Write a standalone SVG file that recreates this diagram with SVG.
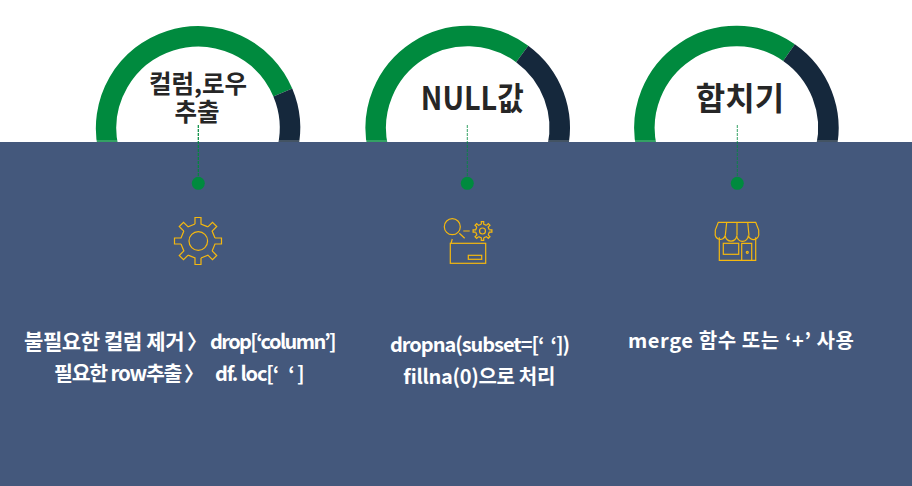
<svg xmlns="http://www.w3.org/2000/svg" xmlns:xlink="http://www.w3.org/1999/xlink" width="912" height="486" viewBox="0 0 912 486">
<style>
.ring{fill:none;stroke-width:20.5}
.g{stroke:#008A3E}
.n{stroke:#15283C}
.icon{fill:none;stroke:#F5B80F;stroke-width:1.2}
.dot{fill:#008A3E}
.lead{stroke:#008A3E;stroke-dasharray:3 1}
.title{font-family:"Noto Sans CJK KR","Noto Sans",sans-serif;font-weight:700;fill:#262626;text-anchor:middle}
.body{font-family:"Noto Sans CJK KR","Noto Sans",sans-serif;font-weight:700;font-size:20px;fill:#fff;white-space:pre}
</style>
<defs>
<path id="tooth" d="M-3,-17V-23.5H3V-17L9.9,-14.14"/>
<g id="gear">
<use xlink:href="#tooth" href="#tooth"/>
<use xlink:href="#tooth" href="#tooth" transform="rotate(45)"/>
<use xlink:href="#tooth" href="#tooth" transform="rotate(90)"/>
<use xlink:href="#tooth" href="#tooth" transform="rotate(135)"/>
<use xlink:href="#tooth" href="#tooth" transform="rotate(180)"/>
<use xlink:href="#tooth" href="#tooth" transform="rotate(225)"/>
<use xlink:href="#tooth" href="#tooth" transform="rotate(270)"/>
<use xlink:href="#tooth" href="#tooth" transform="rotate(315)"/>
</g>
</defs>
<rect width="912" height="486" fill="#fff"/>
<g id="rings">
<path class="ring g" d="M108.2,148A92,92 0 0 1 282.8,92.5"/>
<path class="ring n" d="M282.8,92.5A92,92 0 0 1 287.8,148"/>
<path class="ring g" d="M377.9,148A92,92 0 0 1 522.2,53.9"/>
<path class="ring n" d="M522.2,53.9A92,92 0 0 1 557.5,148"/>
<path class="ring g" d="M646.6,148A92,92 0 0 1 789,52.6"/>
<path class="ring n" d="M789,52.6A92,92 0 0 1 826.2,148"/>
</g>
<rect id="band" y="142" width="912" height="344" fill="#44587C"/>
<rect x="90" y="140" width="760" height="2" fill="#fff" opacity=".2"/>
<g id="connectors">
<line class="lead" x1="198.3" y1="125" x2="198.3" y2="178" stroke-width="1.2"/>
<line class="lead" x1="467.3" y1="125" x2="467.3" y2="178" stroke-width=".8"/>
<line class="lead" x1="737.3" y1="125" x2="737.3" y2="178" stroke-width=".8"/>
</g>
<g id="node-columns">
<text class="title" font-size="24.5"><tspan x="198" y="93">컬럼,로우</tspan><tspan x="197" y="121">추출</tspan></text>
<circle class="dot" cx="198.3" cy="183.3" r="6.5"/>
<g class="icon">
<use xlink:href="#gear" href="#gear" transform="translate(198,241)"/>
<circle cx="198.3" cy="241" r="9.3"/>
</g>
<text class="body"><tspan x="24" y="349" font-size="21" letter-spacing="-.4">불필요한 컬럼 제거 </tspan><tspan x="187" y="349">〉</tspan><tspan x="210" y="349" letter-spacing="-1.6">drop[‘column’]</tspan></text>
<text class="body"><tspan x="54" y="381" font-size="20.5" letter-spacing="-1.2">필요한 row추출</tspan><tspan x="184" y="381">〉</tspan><tspan x="215" y="381" letter-spacing="-1.15">df. loc[‘   ‘ ]</tspan></text>
</g>
<g id="node-null">
<text class="title" x="472.3" y="109.5" font-size="32" textLength="103" lengthAdjust="spacingAndGlyphs">NULL값</text>
<circle class="dot" cx="467.3" cy="183.3" r="6.5"/>
<g class="icon">
<circle cx="452.3" cy="226.7" r="8"/>
<path d="M459.3,233.3L464.7,238.3M463.3,231H469.7M451,243.3L452.3,239"/>
<use xlink:href="#gear" href="#gear" transform="translate(482.5,231) scale(.4)" stroke-width="3"/>
<circle cx="482.5" cy="231" r="3"/>
<rect x="450.3" y="243.3" width="35.4" height="20"/>
<rect x="468.3" y="255.3" width="13.4" height="4"/>
</g>
<text class="body" x="390" y="352" textLength="180" lengthAdjust="spacing">dropna(subset=[‘  ‘])</text>
<text class="body" x="403" y="384" textLength="152" lengthAdjust="spacing">fillna(0)으로 처리</text>
</g>
<g id="node-merge">
<text class="title" x="740" y="110" font-size="32">합치기</text>
<circle class="dot" cx="737.3" cy="183.3" r="6.5"/>
<g class="icon">
<path d="M718.3,222.3H755.7L758.7,230V233A5.2,5.2 0 0 1 748.3,235.5A5.8,5.8 0 0 1 736.7,235.5A5.7,5.7 0 0 1 725.3,235.5A5,5 0 0 1 715.3,233V230Z"/>
<path d="M726.7,222.3L725.3,235.5M737,222.3V235.5M747.7,222.3L749,235.5"/>
<path d="M719.3,237.3V260.3H755.7V237.3"/>
<rect x="723.3" y="243.3" width="15.4" height="11"/>
<path d="M741.7,260.3V243.3H751.7V260.3"/>
<circle cx="747.3" cy="252.3" r="1"/>
</g>
<text class="body" x="628" y="348" textLength="226" lengthAdjust="spacing">merge 함수 또는 ‘+’ 사용</text>
</g>
</svg>
